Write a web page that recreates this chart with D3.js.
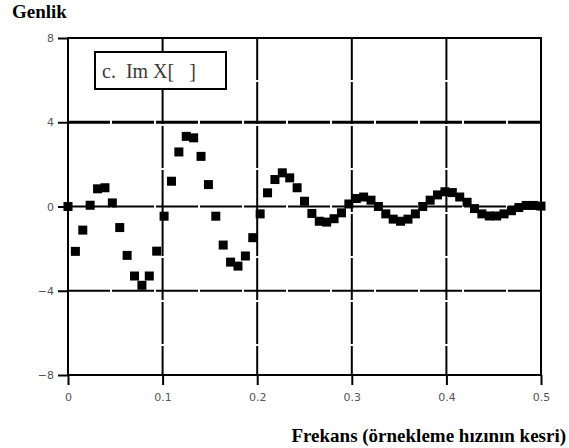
<!DOCTYPE html>
<html>
<head>
<meta charset="utf-8">
<script src="https://cdn.jsdelivr.net/npm/d3@7"></script>
<style>
    body { margin: 0; background: #fff; }
    .grid line { stroke: #000; stroke-width: 2; stroke-dasharray: 42,2; }
    .grid line.thick { stroke-width: 3; }
    .tick text { font-family: "DejaVu Sans", sans-serif; font-size: 11px; fill: #555; }
    .title { font-family: "Liberation Serif", serif; font-weight: bold; font-size: 19px; fill: #000; }
    .legend text { font-family: "Liberation Serif", serif; font-size: 20px; fill: #3a3a3a; white-space: pre; }
</style>
</head>
<body>
<script>
var width = 569,
    height = 448;

// 128 point DFT, Im X[k] for k = 0..64
var N = 128;
var imX = [
    0, -2.13, -1.12, 0.06, 0.84, 0.89, 0.17, -1.0, -2.32, -3.3,
    -3.74, -3.3, -2.12, -0.46, 1.2, 2.59, 3.33, 3.26, 2.38, 1.04,
    -0.46, -1.83, -2.64, -2.83, -2.35, -1.48, -0.35, 0.65, 1.28, 1.6,
    1.36, 0.89, 0.25, -0.33, -0.7, -0.74, -0.58, -0.3, 0.12, 0.38,
    0.45, 0.3, 0.0, -0.35, -0.6, -0.7, -0.6, -0.35, 0.0, 0.3,
    0.55, 0.7, 0.66, 0.45, 0.2, -0.1, -0.35, -0.45, -0.45, -0.35,
    -0.2, -0.05, 0.05, 0.05, 0.02
];

var xTicks = [0, 0.1, 0.2, 0.3, 0.4, 0.5],
    yTicks = [8, 4, 0, -4, -8];

var xTitle = 'Frekans (örnekleme hızının kesri)',
    yTitle = 'Genlik',
    legendText = 'c.  Im X[   ]';

var margin = {left: 68, right: 28, top: 38, bottom: 73};

var x = d3.scaleLinear()
    .domain([0, 0.5])
    .range([margin.left, width - margin.right]);

var y = d3.scaleLinear()
    .domain([-8, 8])
    .range([height - margin.bottom, margin.top]);

var svg = d3.select('body')
    .append('svg')
    .attr('width', width)
    .attr('height', height);

// grid lines
var grid = svg.append('g').attr('class', 'grid');

grid.selectAll('line.h')
    .data(yTicks.filter(d => Math.abs(d) < 8)).enter()
    .append('line')
    .attr('class', d => d === 4 ? 'h thick' : 'h')
    .attr('x1', x(0))
    .attr('x2', x(0.5))
    .attr('y1', d => y(d))
    .attr('y2', d => y(d));

grid.selectAll('line.v')
    .data(xTicks.filter(d => d > 0 && d < 0.5)).enter()
    .append('line')
    .attr('class', 'v')
    .attr('x1', d => x(d))
    .attr('x2', d => x(d))
    .attr('y1', y(8))
    .attr('y2', y(-8));

// frame
svg.append('rect')
    .attr('x', x(0))
    .attr('y', y(8))
    .attr('width', x(0.5) - x(0))
    .attr('height', y(-8) - y(8))
    .attr('fill', 'none')
    .attr('stroke', '#000')
    .attr('stroke-width', 2);

// axes
var yAxis = svg.append('g')
    .attr('transform', 'translate(' + x(0) + ',0)')
    .call(d3.axisLeft(y).tickValues(yTicks).tickSize(10).tickPadding(4).tickFormat(d3.format('d')));

var xAxis = svg.append('g')
    .attr('transform', 'translate(0,' + y(-8) + ')')
    .call(d3.axisBottom(x).tickValues(xTicks).tickSize(10).tickPadding(8).tickFormat(d => d === 0 ? '0' : d3.format('.1f')(d)));

[xAxis, yAxis].forEach(function(a) {
    a.select('.domain').remove();
    a.selectAll('.tick line').attr('stroke', '#000').attr('stroke-width', 2);
});

// legend box
var legend = svg.append('g').attr('class', 'legend');

legend.append('rect')
    .attr('x', 95)
    .attr('y', 52)
    .attr('width', 131)
    .attr('height', 37)
    .attr('fill', '#fff')
    .attr('stroke', '#000')
    .attr('stroke-width', 2);

legend.append('text')
    .attr('x', 102)
    .attr('y', 78)
    .attr('xml:space', 'preserve')
    .text(legendText);

// data markers
svg.append('g')
    .selectAll('rect')
    .data(imX).enter()
    .append('rect')
    .attr('x', (d, i) => x(i / N) - 4.5)
    .attr('y', d => y(d) - 4.5)
    .attr('width', 9)
    .attr('height', 9)
    .attr('fill', '#000');

// titles
svg.append('text')
    .attr('class', 'title')
    .attr('x', 12)
    .attr('y', 18)
    .text(yTitle);

svg.append('text')
    .attr('class', 'title')
    .attr('x', 566)
    .attr('y', 442)
    .attr('text-anchor', 'end')
    .text(xTitle);
</script>
</body>
</html>
